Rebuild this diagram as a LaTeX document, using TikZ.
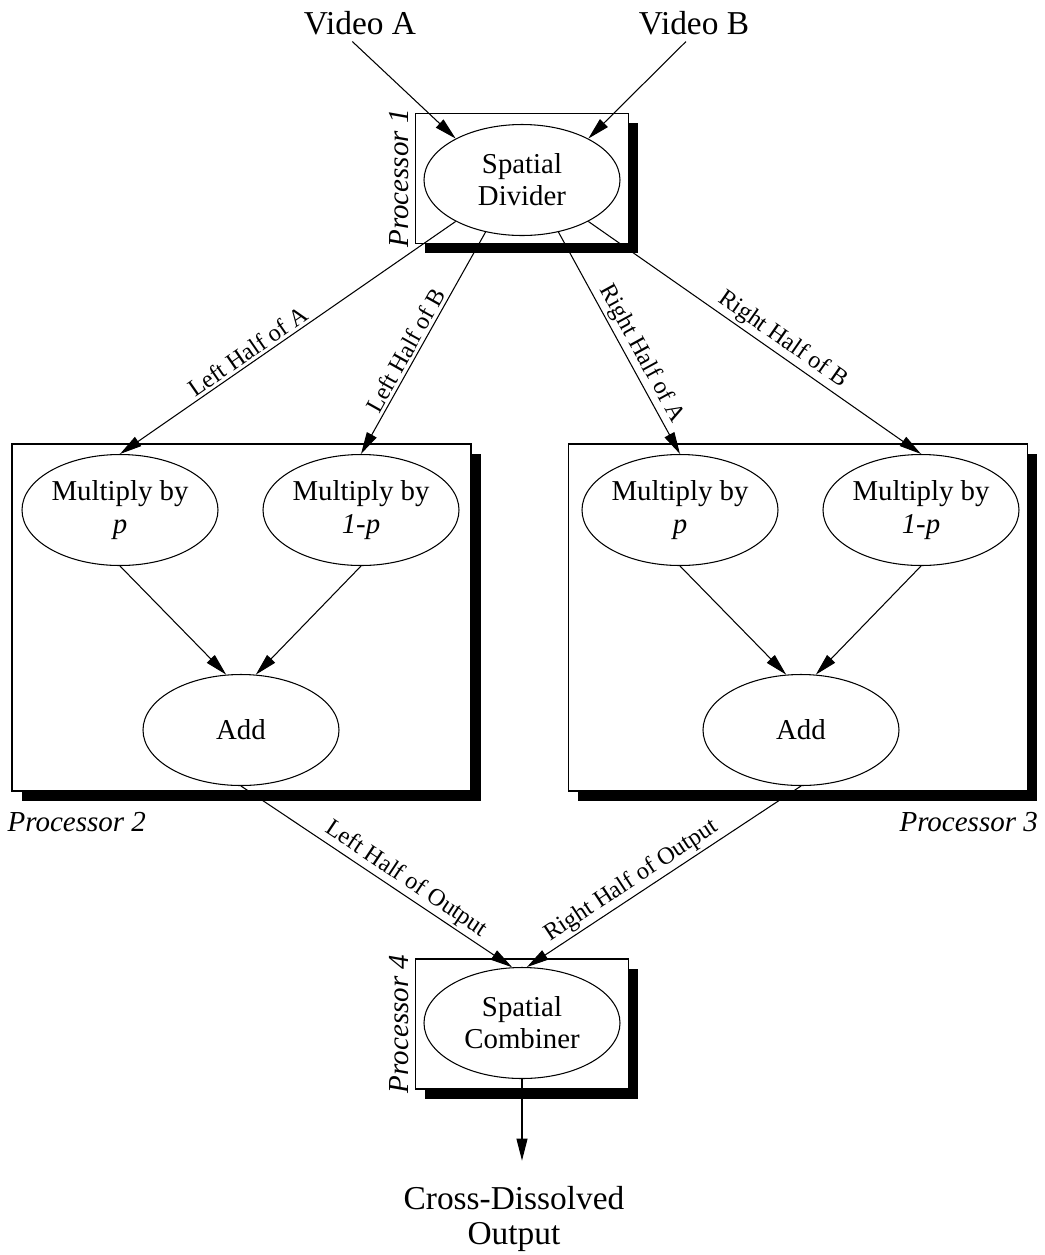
\documentclass[tikz,border=0pt]{standalone}
\usepackage{fontspec}
\setmainfont{Liberation Serif}
\usetikzlibrary{shapes.geometric, shadows, arrows.meta}

\begin{document}
\begin{tikzpicture}
  % Styles
  \tikzstyle{proc}=[rectangle, draw, fill=white, line width=0.6pt, minimum width=9.18cm, minimum height=6.94cm, drop shadow={shadow xshift=0.19cm, shadow yshift=-0.19cm, fill=black, opacity=1}]
  \tikzstyle{smallproc}=[proc, minimum width=4.26cm, minimum height=2.6cm]
  \tikzstyle{op}=[ellipse, draw, fill=white, line width=0.6pt, minimum width=3.92cm, minimum height=2.22cm, inner sep=0pt, align=center, font=\fontsize{16.4}{18.3}\selectfont]
  \tikzstyle{inout}=[align=center, font=\fontsize{19}{20.4}\selectfont]
  \tikzstyle{plabel}=[font=\fontsize{16.5}{18}\selectfont\itshape]
  \tikzstyle{elabel}=[font=\fontsize{13.8}{15}\selectfont, sloped, above, inner sep=1.5pt]
  \tikzstyle{arrow}=[-{Triangle[length=0.44cm, width=0.22cm]}, line width=0.6pt]

  \path[use as bounding box, fill=white] (0,0) rectangle (20.9,-25.1);

  % Inputs
  \node[inout] (videoA) at (7.2,-0.47) {Video A};
  \node[inout] (videoB) at (13.88,-0.47) {Video B};

  % Processor 1
  \node[smallproc] (proc1) at (10.44,-3.57) {};
  \node[op] (divider) at (10.44,-3.6) {Spatial\\Divider};
  \node[plabel, rotate=90, anchor=south] (plabel1) at (proc1.west) {Processor 1};

  % Processor 2
  \node[proc] (proc2) at (4.83,-12.35) {};
  \node[op] (mult2a) at (2.4,-10.2) {Multiply by\\\textit{p}};
  \node[op] (mult2b) at (7.22,-10.2) {Multiply by\\\textit{1-p}};
  \node[op] (add2) at (4.82,-14.6) {Add};
  \node[plabel, anchor=north west, xshift=-0.2cm, yshift=-0.3cm] (plabel2) at (proc2.south west) {Processor 2};

  % Processor 3
  \node[proc] (proc3) at (15.96,-12.35) {};
  \node[op] (mult3a) at (13.6,-10.2) {Multiply by\\\textit{p}};
  \node[op] (mult3b) at (18.42,-10.2) {Multiply by\\\textit{1-p}};
  \node[op] (add3) at (16.02,-14.6) {Add};
  \node[plabel, anchor=north east, xshift=0.32cm, yshift=-0.3cm] (plabel3) at (proc3.south east) {Processor 3};

  % Processor 4
  \node[smallproc] (proc4) at (10.44,-20.48) {};
  \node[op] (combiner) at (10.44,-20.46) {Spatial\\Combiner};
  \node[plabel, rotate=90, anchor=south] (plabel4) at (proc4.west) {Processor 4};

  % Output
  \node[inout, inner ysep=0.5cm] (output) at (10.28,-24.38) {Cross-Dissolved\\Output};

  % Inputs to divider
  \draw[arrow] (videoA.247) -- (divider.148);
  \draw[arrow] (videoB.246) -- (divider.32);

  % Divider to processors 2 and 3
  \draw[arrow] (divider.212) -- node[elabel, pos=0.6] (lhA) {Left Half of A} (mult2a.north);
  \draw[arrow] (divider.235) -- node[elabel, pos=0.56] (lhB) {Left Half of B} (mult2b.north);
  \draw[arrow] (divider.305) -- node[elabel, pos=0.58] (rhA) {Right Half of A} (mult3a.north);
  \draw[arrow] (divider.328) -- node[elabel, pos=0.56] (rhB) {Right Half of B} (mult3b.north);

  % Inside processors
  \draw[arrow] (mult2a.south) -- (add2.105);
  \draw[arrow] (mult2b.south) -- (add2.75);
  \draw[arrow] (mult3a.south) -- (add3.105);
  \draw[arrow] (mult3b.south) -- (add3.75);

  % Halves to combiner
  \draw[arrow] (add2.south) -- node[elabel, pos=0.58] (lhOut) {Left Half of Output} (combiner.100);
  \draw[arrow] (add3.south) -- node[elabel, pos=0.59] (rhOut) {Right Half of Output} (combiner.85);

  % Final output
  \draw[arrow] (combiner.south) -- (combiner.south |- output.north);
\end{tikzpicture}
\end{document}
